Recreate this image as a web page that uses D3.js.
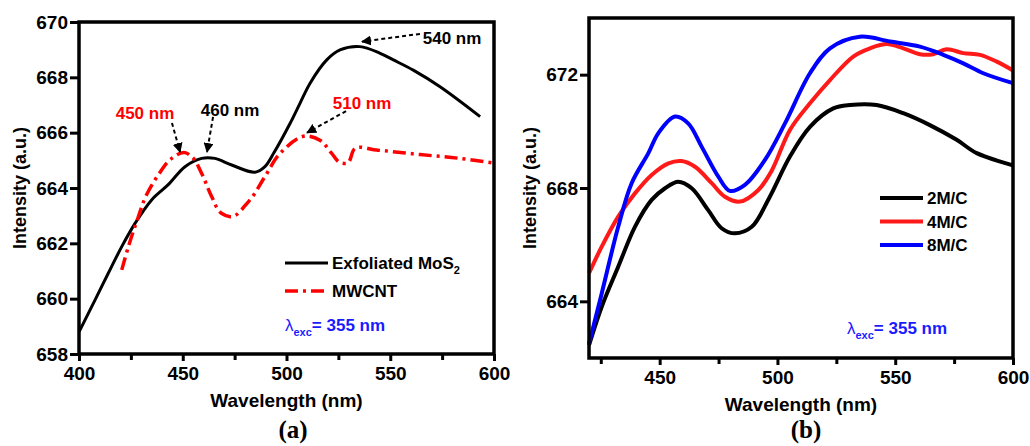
<!DOCTYPE html>
<html>
<head>
<meta charset="utf-8">
<script src="https://cdn.jsdelivr.net/npm/d3@7"></script>
<style>
  body { margin: 0; background: #fff; }
  svg text { font-family: "Liberation Sans", Arial, sans-serif; font-weight: bold; }
</style>
</head>
<body>
<svg id="chart"></svg>
<script>
const width = 1030, height = 446

// ---- panel (a) data ----
const mosWl = [400, 401.3, 407.7, 414.1, 420.6, 427, 435, 443, 451.1, 459.1, 465.5, 473.6, 484.8, 489.6, 494, 501.7, 506.5, 511.3, 519.4, 525.8, 535.4, 545.1, 551.5, 561.1, 574, 593.3]
const mosInt = [658.8, 658.99, 659.95, 660.92, 661.88, 662.72, 663.57, 664.12, 664.77, 665.07, 665.07, 664.83, 664.57, 664.77, 665.28, 666.33, 667.06, 667.78, 668.63, 668.99, 669.11, 668.87, 668.63, 668.26, 667.66, 666.58]
const cntWl = [420.6, 423.8, 428.6, 431.8, 438.2, 444.7, 451.1, 454.3, 459.1, 464, 468.8, 472.8, 481.6, 489.6, 496.9, 510.5, 516.1, 521.8, 525.8, 529, 533, 543.5, 564.3, 583.6, 600]
const cntInt = [661.04, 661.88, 662.96, 663.63, 664.47, 665.07, 665.28, 665.13, 664.53, 663.68, 663.08, 662.96, 663.5, 664.41, 665.25, 665.88, 665.73, 665.25, 664.92, 664.89, 665.43, 665.37, 665.21, 665.07, 664.9]
const aSeries = ["Exfoliated MoS2", "MWCNT"]
const aXTicks = [400, 450, 500, 550, 600]
const aYTicks = [658, 660, 662, 664, 666, 668, 670]
// peak labels: [label, tip wl, tip int, tail wl, tail int, text wl, text int]
const aPeaks = [
    ["450 nm", 448.7, 665.3, 444.8, 666.35, 431.8, 666.71],
    ["460 nm", 461.7, 665.3, 464.6, 666.57, 472.8, 666.82],
    ["510 nm", 509.9, 666.0, 528.7, 666.78, 536.4, 667.07],
    ["540 nm", 536.4, 669.29, 564.3, 669.57, 579.8, 669.42],
]
const aPeakColors = ["#ff0000", "#000", "#ff0000", "#000"]

// ---- panel (b) data ----
const m2Wl = [420, 425.4, 432.4, 439.5, 446.6, 452.3, 457.9, 463.6, 470.6, 476.3, 481.9, 489.1, 496.5, 505.3, 513.8, 523.7, 530.8, 542.1, 553.4, 564.7, 576.1, 584.6, 600]
const m2Int = [662.45, 663.81, 665.22, 666.63, 667.58, 667.99, 668.22, 667.99, 667.22, 666.58, 666.4, 666.63, 667.65, 669.11, 670.16, 670.81, 670.93, 670.93, 670.64, 670.22, 669.7, 669.23, 668.8]
const m4Wl = [420, 425.4, 432.4, 439.5, 446.6, 453.7, 459.3, 465, 472.1, 477.7, 484.1, 491.9, 497.5, 505.3, 513.8, 522.3, 532.2, 539.3, 546.4, 553.4, 560.5, 566.1, 571.8, 578.9, 586, 593.1, 600]
const m4Int = [664.99, 665.93, 666.99, 667.81, 668.46, 668.87, 668.95, 668.75, 668.17, 667.69, 667.52, 667.93, 668.6, 670.05, 670.99, 671.81, 672.64, 672.93, 673.08, 672.93, 672.72, 672.72, 672.9, 672.76, 672.7, 672.46, 672.15]
const m8Wl = [420, 425.4, 432.4, 438.1, 445.2, 449.4, 456.5, 462.1, 467.8, 474.9, 479.8, 486.2, 494.7, 503.2, 513.8, 522.3, 535, 547.8, 560.5, 570.4, 578.9, 587.4, 600]
const m8Int = [662.5, 664.28, 666.63, 668.17, 669.23, 669.93, 670.52, 670.28, 669.46, 668.4, 667.9, 668.11, 668.99, 670.28, 672.05, 672.93, 673.34, 673.17, 672.99, 672.7, 672.4, 672.05, 671.7]
const bSeries = ["2M/C", "4M/C", "8M/C"]
const bColors = ["#000", "#ff1a1a", "#0000ff"]
const bXTicks = [450, 500, 550, 600]
const bYTicks = [664, 668, 672]

const svg = d3.select("svg#chart")
    .attr("width", width)
    .attr("height", height)
    .attr("viewBox", [0, 0, width, height])

svg.append("defs").append("marker")
    .attr("id", "arrow")
    .attr("viewBox", "0 0 10 10")
    .attr("refX", 9).attr("refY", 5)
    .attr("markerWidth", 5).attr("markerHeight", 5)
    .attr("markerUnits", "strokeWidth")
    .attr("orient", "auto")
    .append("path")
    .attr("d", "M0,0 L10,5 L0,10 z")
    .attr("fill", "#000")

function frame(g, x, y, xTicks, xMinor, yTicks) {
    const [x0, x1] = x.range()
    const [y0, y1] = y.range()

    g.append("g")
        .attr("transform", `translate(0,${y0})`)
        .call(d3.axisBottom(x).tickValues(xMinor).tickSize(6).tickFormat(""))
        .call(a => a.select(".domain").remove())
        .selectAll("line").attr("stroke-width", 3)

    g.append("g")
        .attr("transform", `translate(0,${y0})`)
        .call(d3.axisBottom(x).tickValues(xTicks).tickSize(7).tickPadding(6).tickFormat(d3.format("d")))
        .call(a => a.select(".domain").remove())
        .call(a => a.selectAll("line").attr("stroke-width", 3))
        .selectAll("text").attr("font-size", 19).attr("fill", "#000")
        .attr("font-family", "Liberation Sans, Arial, sans-serif")

    g.append("g")
        .attr("transform", `translate(${x0},0)`)
        .call(d3.axisLeft(y).tickValues(yTicks).tickSize(9).tickPadding(2).tickFormat(d3.format("d")))
        .call(a => a.select(".domain").remove())
        .call(a => a.selectAll("line").attr("stroke-width", 3))
        .selectAll("text").attr("font-size", 19).attr("fill", "#000")
        .attr("font-family", "Liberation Sans, Arial, sans-serif")

    g.append("rect")
        .attr("x", x0).attr("y", y1)
        .attr("width", x1 - x0).attr("height", y0 - y1)
        .attr("fill", "none").attr("stroke", "#000").attr("stroke-width", 3.5)

    g.append("text")
        .attr("x", (x0 + x1) / 2).attr("y", y0 + 53)
        .attr("text-anchor", "middle").attr("font-size", 19)
        .text("Wavelength (nm)")

    g.append("text")
        .attr("transform", `translate(${x0 - 53},${(y0 + y1) / 2}) rotate(-90)`)
        .attr("text-anchor", "middle").attr("font-size", 18)
        .text("Intensity (a.u.)")
}

function lambdaLabel(g, px, py) {
    const t = g.append("text").attr("x", px).attr("y", py)
        .attr("fill", "#1a1aff").attr("font-size", 17)
    t.append("tspan").attr("font-weight", "normal").text("λ")
    t.append("tspan").attr("font-size", 11).attr("dy", 5).text("exc")
    t.append("tspan").attr("dy", -5).text("= 355 nm")
}

// ---------- panel (a) ----------
const xA = d3.scaleLinear().domain([400, 600]).range([79, 494])
const yA = d3.scaleLinear().domain([658, 670]).range([354, 22])
const gA = svg.append("g")

gA.append("path")
    .attr("fill", "none").attr("stroke", "#000").attr("stroke-width", 3)
    .attr("d", d3.line().x(d => xA(d[0])).y(d => yA(d[1])).curve(d3.curveCatmullRom)(d3.zip(mosWl, mosInt)))

gA.append("path")
    .attr("fill", "none").attr("stroke", "#ff0000").attr("stroke-width", 3.5)
    .attr("stroke-dasharray", "13,5,3,5")
    .attr("d", d3.line().x(d => xA(d[0])).y(d => yA(d[1])).curve(d3.curveCatmullRom.alpha(1))(d3.zip(cntWl, cntInt)))

frame(gA, xA, yA, aXTicks, [425, 475, 525, 575], aYTicks)

// peak annotations
gA.selectAll("line.peak")
    .data(aPeaks)
    .join("line").classed("peak", true)
    .attr("x1", d => xA(d[3])).attr("y1", d => yA(d[4]))
    .attr("x2", d => xA(d[1])).attr("y2", d => yA(d[2]))
    .attr("stroke", "#000").attr("stroke-width", 2)
    .attr("stroke-dasharray", "4,3")
    .attr("marker-end", "url(#arrow)")

gA.selectAll("text.peak")
    .data(aPeaks)
    .join("text").classed("peak", true)
    .attr("x", d => xA(d[5])).attr("y", d => yA(d[6]) + 6)
    .attr("text-anchor", "middle").attr("font-size", 17)
    .attr("fill", (d, i) => aPeakColors[i])
    .text(d => d[0])

// legend (a)
const legA = gA.append("g")
legA.append("line").attr("x1", 285).attr("x2", 328).attr("y1", 263).attr("y2", 263)
    .attr("stroke", "#000").attr("stroke-width", 3)
legA.append("line").attr("x1", 285).attr("x2", 328).attr("y1", 291).attr("y2", 291)
    .attr("stroke", "#ff0000").attr("stroke-width", 3.5).attr("stroke-dasharray", "13,5,3,5")
const legT = legA.append("text").attr("x", 332).attr("y", 269).attr("font-size", 17)
legT.append("tspan").text(aSeries[0].slice(0, -1))
legT.append("tspan").attr("font-size", 11).attr("dy", 5).text(aSeries[0].slice(-1))
legA.append("text").attr("x", 332).attr("y", 297).attr("font-size", 17).text(aSeries[1])
lambdaLabel(legA, 285, 331)

svg.append("text").attr("x", 293).attr("y", 438)
    .attr("text-anchor", "middle").attr("font-size", 25)
    .style("font-family", "'Liberation Serif', serif")
    .text("(a)")

// ---------- panel (b) ----------
const xB = d3.scaleLinear().domain([420, 600]).range([589, 1013])
const yB = d3.scaleLinear().domain([662, 674]).range([358, 18])
const gB = svg.append("g")

const lineB = d3.line().x(d => xB(d[0])).y(d => yB(d[1])).curve(d3.curveCatmullRom)
const bData = [d3.zip(m2Wl, m2Int), d3.zip(m4Wl, m4Int), d3.zip(m8Wl, m8Int)]

gB.selectAll("path.series")
    .data(bData)
    .join("path").classed("series", true)
    .attr("fill", "none")
    .attr("stroke", (d, i) => bColors[i])
    .attr("stroke-width", 4)
    .attr("d", lineB)

frame(gB, xB, yB, bXTicks, [425, 475, 525, 575], bYTicks)

const legB = gB.append("g")
legB.selectAll("line")
    .data(bSeries)
    .join("line")
    .attr("x1", 880).attr("x2", 923)
    .attr("y1", (d, i) => 198 + i * 23.5).attr("y2", (d, i) => 198 + i * 23.5)
    .attr("stroke", (d, i) => bColors[i]).attr("stroke-width", 4)
legB.selectAll("text")
    .data(bSeries)
    .join("text")
    .attr("x", 927).attr("y", (d, i) => 204 + i * 23.5)
    .attr("font-size", 17)
    .text(d => d)
lambdaLabel(legB, 847, 334)

svg.append("text").attr("x", 806).attr("y", 438)
    .attr("text-anchor", "middle").attr("font-size", 25)
    .style("font-family", "'Liberation Serif', serif")
    .text("(b)")
</script>
</body>
</html>
